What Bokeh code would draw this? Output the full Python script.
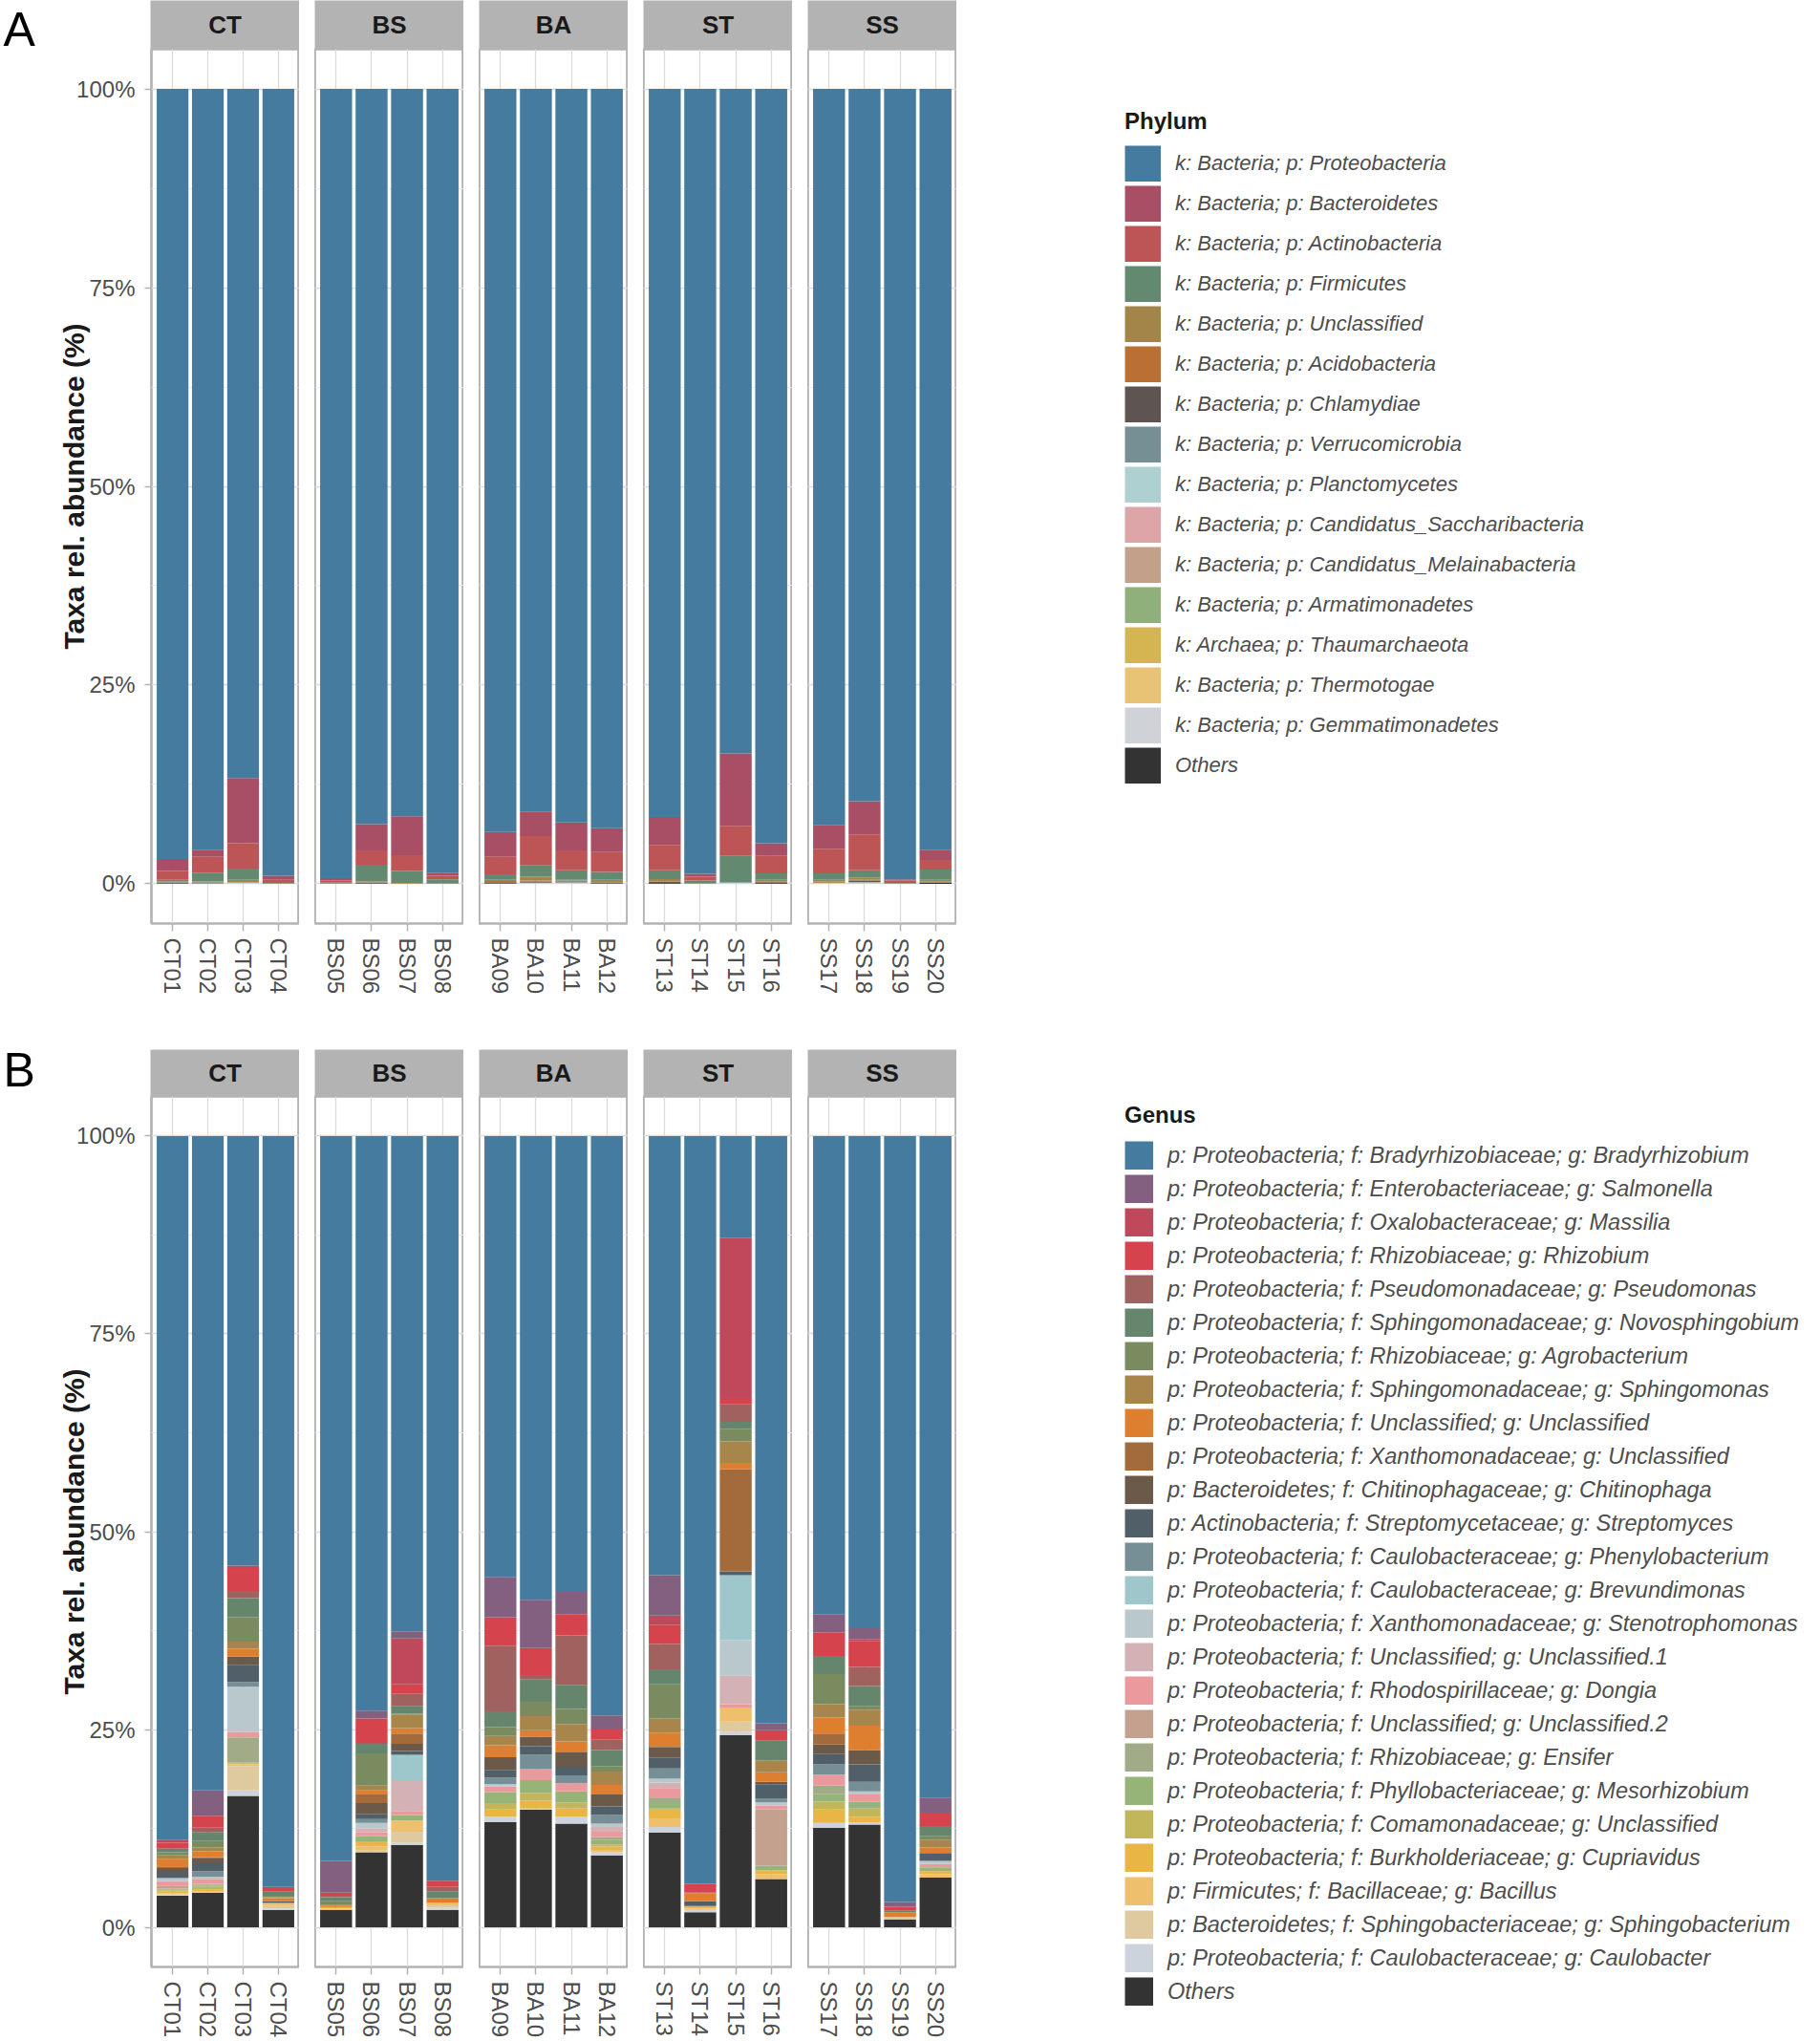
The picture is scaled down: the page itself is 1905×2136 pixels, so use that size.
from bokeh.plotting import figure
from bokeh.models import (ColumnDataSource, FactorRange, Range1d, FixedTicker,
                          PrintfTickFormatter, Legend, LegendItem, Label, Spacer)
from bokeh.layouts import row, column
from bokeh.embed import file_html
from bokeh.resources import INLINE

FONT = "Liberation Sans"

groups = ["CT", "BS", "BA", "ST", "SS"]
samples = ["CT01", "CT02", "CT03", "CT04", "BS05", "BS06", "BS07", "BS08",
           "BA09", "BA10", "BA11", "BA12", "ST13", "ST14", "ST15", "ST16",
           "SS17", "SS18", "SS19", "SS20"]
panel_letters = ["A", "B"]

# ---------------- Panel A : phylum ----------------
phylum_names = [
    "k: Bacteria; p: Proteobacteria", "k: Bacteria; p: Bacteroidetes",
    "k: Bacteria; p: Actinobacteria", "k: Bacteria; p: Firmicutes",
    "k: Bacteria; p: Unclassified", "k: Bacteria; p: Acidobacteria",
    "k: Bacteria; p: Chlamydiae", "k: Bacteria; p: Verrucomicrobia",
    "k: Bacteria; p: Planctomycetes", "k: Bacteria; p: Candidatus_Saccharibacteria",
    "k: Bacteria; p: Candidatus_Melainabacteria", "k: Bacteria; p: Armatimonadetes",
    "k: Archaea; p: Thaumarchaeota", "k: Bacteria; p: Thermotogae",
    "k: Bacteria; p: Gemmatimonadetes", "Others"]
phylum_colors = ["#447B9E", "#A84F66", "#BD5556", "#638A70", "#A38449", "#BA7034",
                 "#5E5553", "#758F94", "#AFD0D1", "#DDA5A8", "#C2A08A", "#8FB07B",
                 "#D5B552", "#E8C275", "#CFD3D8", "#333333"]

p_proteobacteria = [96.9, 95.7, 86.7, 99.0, 99.3, 92.5, 91.5, 98.6, 93.5, 90.9,
                    92.3, 93.0, 91.6, 98.75, 83.6, 94.9, 92.6, 89.6, 99.45, 95.7]
p_bacteroidetes = [1.5, 0.9, 8.2, 0.5, 0.25, 3.3, 4.9, 0.4, 3.1, 3.1,
                   3.5, 3.0, 3.5, 0.35, 9.1, 1.6, 3.0, 4.2, 0.15, 1.3]
p_actinobacteria = [1.1, 2.0, 3.2, 0.4, 0.3, 1.8, 2.0, 0.45, 2.2, 3.7,
                    2.5, 2.5, 3.2, 0.5, 3.8, 2.2, 3.1, 4.5, 0.3, 1.2]
p_firmicutes = [0.2, 1.1, 1.4, 0.05, 0.1, 2.1, 1.5, 0.5, 0.7, 1.4,
                1.2, 1.0, 1.1, 0.35, 3.3, 0.8, 0.8, 0.9, 0.05, 1.3]
p_unclassified = [0.15, 0.15, 0.3, 0.03, 0.03, 0.15, 0.05, 0.03, 0.15, 0.5,
                  0.1, 0.3, 0.3, 0.03, 0.05, 0.25, 0.25, 0.3, 0.03, 0.25]
p_acidobacteria = [0.05, 0.05, 0.05, 0.02, 0.02, 0.05, 0.05, 0, 0.15, 0.1,
                   0.05, 0.1, 0.05, 0.02, 0.05, 0.05, 0.1, 0.1, 0.02, 0.1]
p_chlamydiae = [0.05, 0.05, 0, 0, 0, 0.05, 0, 0.02, 0.15, 0.15,
                0.05, 0.05, 0.25, 0, 0, 0.2, 0.05, 0.2, 0, 0.05]
p_verrucomicrobia = [0, 0, 0, 0, 0, 0, 0, 0, 0, 0, 0.15, 0, 0, 0, 0, 0, 0, 0, 0, 0]
p_planctomycetes = [0] * 20
p_saccharibacteria = [0] * 20
p_melainabacteria = [0] * 20
p_armatimonadetes = [0] * 20
p_thaumarchaeota = [0, 0, 0, 0, 0, 0, 0, 0, 0, 0.05, 0, 0, 0, 0, 0, 0, 0, 0, 0, 0]
p_thermotogae = [0, 0, 0.05, 0, 0, 0, 0, 0, 0, 0, 0, 0, 0, 0, 0, 0, 0.05, 0.1, 0, 0]
p_gemmatimonadetes = [0, 0.05, 0.1, 0, 0, 0, 0, 0, 0, 0.1, 0.15, 0, 0, 0, 0.1, 0, 0.05, 0.1, 0, 0]
p_others = [0.05, 0, 0, 0, 0, 0.05, 0, 0, 0.05, 0, 0, 0.05, 0, 0, 0, 0, 0, 0, 0, 0.1]

phylum_values = [p_proteobacteria, p_bacteroidetes, p_actinobacteria, p_firmicutes,
                 p_unclassified, p_acidobacteria, p_chlamydiae, p_verrucomicrobia,
                 p_planctomycetes, p_saccharibacteria, p_melainabacteria,
                 p_armatimonadetes, p_thaumarchaeota, p_thermotogae,
                 p_gemmatimonadetes, p_others]

# ---------------- Panel B : genus ----------------
genus_names = [
    "p: Proteobacteria; f: Bradyrhizobiaceae; g: Bradyrhizobium",
    "p: Proteobacteria; f: Enterobacteriaceae; g: Salmonella",
    "p: Proteobacteria; f: Oxalobacteraceae; g: Massilia",
    "p: Proteobacteria; f: Rhizobiaceae; g: Rhizobium",
    "p: Proteobacteria; f: Pseudomonadaceae; g: Pseudomonas",
    "p: Proteobacteria; f: Sphingomonadaceae; g: Novosphingobium",
    "p: Proteobacteria; f: Rhizobiaceae; g: Agrobacterium",
    "p: Proteobacteria; f: Sphingomonadaceae; g: Sphingomonas",
    "p: Proteobacteria; f: Unclassified; g: Unclassified",
    "p: Proteobacteria; f: Xanthomonadaceae; g: Unclassified",
    "p: Bacteroidetes; f: Chitinophagaceae; g: Chitinophaga",
    "p: Actinobacteria; f: Streptomycetaceae; g: Streptomyces",
    "p: Proteobacteria; f: Caulobacteraceae; g: Phenylobacterium",
    "p: Proteobacteria; f: Caulobacteraceae; g: Brevundimonas",
    "p: Proteobacteria; f: Xanthomonadaceae; g: Stenotrophomonas",
    "p: Proteobacteria; f: Unclassified; g: Unclassified.1",
    "p: Proteobacteria; f: Rhodospirillaceae; g: Dongia",
    "p: Proteobacteria; f: Unclassified; g: Unclassified.2",
    "p: Proteobacteria; f: Rhizobiaceae; g: Ensifer",
    "p: Proteobacteria; f: Phyllobacteriaceae; g: Mesorhizobium",
    "p: Proteobacteria; f: Comamonadaceae; g: Unclassified",
    "p: Proteobacteria; f: Burkholderiaceae; g: Cupriavidus",
    "p: Firmicutes; f: Bacillaceae; g: Bacillus",
    "p: Bacteroidetes; f: Sphingobacteriaceae; g: Sphingobacterium",
    "p: Proteobacteria; f: Caulobacteraceae; g: Caulobacter",
    "Others"]
genus_colors = ["#447B9E", "#835F80", "#C0485B", "#D5434C", "#A0625E", "#65866C",
                "#798B5F", "#A8854A", "#DD7F2E", "#A36A3B", "#6B5A4A", "#505F68",
                "#768F96", "#9DC7CB", "#B8C8CC", "#D3B1B4", "#EA9A9C", "#C4A08E",
                "#A1AB87", "#96B478", "#C2B65B", "#E9B544", "#EEBF6C", "#DFC99E",
                "#CCD3DC", "#333333"]

g_bradyrhizobium = [88.9, 82.7, 54.3, 94.9, 91.6, 72.6, 62.6, 94.1, 55.7, 58.6,
                    57.6, 73.2, 55.5, 94.5, 12.9, 74.2, 60.4, 62.2, 96.8, 83.6]
g_salmonella = [0.1, 3.2, 0, 0, 4.0, 1.0, 0.9, 0, 5.1, 6.1,
                2.8, 1.8, 5.1, 0, 0, 0.9, 2.3, 1.4, 0.6, 1.9]
g_massilia = [0.3, 0, 0.3, 0, 0, 0, 5.8, 0, 0.2, 0,
              0, 0, 1.2, 0, 20.2, 0, 0, 0.2, 0, 0]
g_rhizobium = [0.7, 1.5, 2.9, 0.6, 0.4, 3.1, 1.2, 0.8, 3.4, 3.4,
               2.7, 1.3, 2.4, 1.1, 0.8, 1.3, 3.0, 3.3, 0.5, 1.7]
g_pseudomonas = [0.1, 0.6, 0.9, 0, 0.2, 0.1, 1.5, 0.6, 8.3, 0.6,
                 6.3, 1.3, 3.2, 0, 2.2, 0, 0, 2.4, 0, 0]
g_novosphingobium = [0.4, 1.1, 2.4, 0.5, 0.5, 1.2, 1.0, 0.8, 2.0, 2.8,
                     3.0, 2.0, 1.9, 0.1, 0.9, 2.5, 2.3, 2.5, 0.2, 1.3]
g_agrobacterium = [0.4, 0.8, 3.1, 0.2, 0.4, 4.1, 0.1, 0, 1.1, 1.8,
                   1.9, 0.7, 4.3, 0, 1.6, 0, 3.8, 0.5, 0, 0.4]
g_sphingomonas = [0.5, 0.5, 0.9, 0.1, 0, 0.6, 1.7, 0, 1.2, 1.8,
                  2.2, 1.7, 1.8, 0, 2.7, 1.5, 1.7, 2.0, 0, 1.0]
g_unclassified = [0.9, 0.7, 1.0, 0.4, 0.2, 0.4, 0.7, 0.6, 1.5, 0.8,
                  1.4, 1.2, 1.8, 1.0, 0.8, 1.2, 2.0, 3.1, 0.6, 0.7]
g_xanthomonadaceae = [0.2, 0.1, 0, 0, 0, 1.2, 1.3, 0, 0, 0,
                      0, 0, 0, 0, 12.9, 0, 1.4, 0, 0, 0]
g_chitinophaga = [0.6, 0.7, 1.0, 0, 0, 1.4, 0.9, 0, 1.6, 1.2,
                  1.8, 1.5, 1.4, 0, 0, 0.3, 1.2, 1.8, 0, 0]
g_streptomyces = [0.6, 1.0, 2.2, 0.2, 0.1, 0.6, 0.5, 0, 1.0, 1.1,
                  1.1, 1.1, 1.3, 0.6, 0.5, 1.8, 1.3, 2.2, 0, 1.0]
g_phenylobacterium = [0.1, 0.7, 0.6, 0, 0, 0.5, 0, 0, 0.8, 1.8,
                      1.0, 1.1, 1.3, 0, 0, 0.5, 1.3, 1.2, 0, 0]
g_brevundimonas = [0, 0, 0, 0, 0, 0, 3.2, 0, 0, 0,
                   0, 0, 0, 0, 8.2, 0, 0, 0, 0, 0]
g_stenotrophomonas = [0.3, 0.1, 5.7, 0, 0, 0.7, 0, 0, 0.3, 0,
                      0, 0.4, 0.5, 0, 4.5, 0.4, 0, 0.4, 0, 0.4]
g_unclassified1 = [0.2, 0.2, 0, 0, 0, 0.5, 3.9, 0, 0, 0,
                   0, 0.6, 0.7, 0, 3.6, 0, 0, 0, 0, 0]
g_dongia = [0.4, 0.6, 0.7, 0, 0, 0.5, 0.5, 0, 0.7, 1.4,
            1.0, 0.7, 1.3, 0, 0.5, 0.5, 1.4, 0.9, 0, 0.4]
g_unclassified2 = [0.4, 0.1, 0, 0, 0, 0, 0, 0, 0, 0,
                   0, 0, 0, 0, 0, 7.1, 0, 0, 0, 0]
g_ensifer = [0.1, 0.1, 3.2, 0, 0, 0, 0, 0, 0, 0,
             0, 0.3, 0.6, 0, 0, 0, 1.0, 0, 0, 0]
g_mesorhizobium = [0.1, 0.2, 0, 0, 0, 0.7, 0.7, 0, 1.4, 1.6,
                   1.4, 0.6, 0.7, 0, 0, 0.6, 1.0, 0.9, 0, 0.5]
g_comamonadaceae = [0.2, 0.35, 0, 0, 0, 0, 0, 0, 0.8, 1.0,
                    0.8, 0.3, 0, 0, 0, 0, 1.0, 1.0, 0, 0]
g_cupriavidus = [0.2, 0.2, 0.2, 0.1, 0.2, 0.6, 0, 0, 0.9, 1.0,
                 1.0, 0.4, 1.3, 0.3, 0, 0.5, 1.7, 0.7, 0, 0.4]
g_bacillus = [0.1, 0.1, 0.2, 0.3, 0.2, 0.5, 1.4, 0.3, 0, 0,
              0, 0.3, 1.0, 0, 1.7, 0.6, 0, 0, 0, 0.4]
g_sphingobacterium = [0.1, 0.05, 3.1, 0.3, 0, 0.2, 1.4, 0.3, 0, 0,
                      0, 0, 0, 0.3, 1.3, 0, 0, 0, 0.3, 0]
g_caulobacter = [0.1, 0, 0.7, 0.2, 0, 0, 0.3, 0.3, 0.7, 0.1,
                 0.9, 0.4, 0.7, 0.2, 0.4, 0, 0.6, 0.3, 0, 0]
g_others = [4.0, 4.4, 16.6, 2.2, 2.2, 9.5, 10.4, 2.2, 13.3, 14.9,
            13.1, 9.1, 12.0, 1.9, 24.3, 6.1, 12.6, 13.0, 1.0, 6.3]

genus_values = [g_bradyrhizobium, g_salmonella, g_massilia, g_rhizobium, g_pseudomonas,
                g_novosphingobium, g_agrobacterium, g_sphingomonas, g_unclassified,
                g_xanthomonadaceae, g_chitinophaga, g_streptomyces, g_phenylobacterium,
                g_brevundimonas, g_stenotrophomonas, g_unclassified1, g_dongia,
                g_unclassified2, g_ensifer, g_mesorhizobium, g_comamonadaceae,
                g_cupriavidus, g_bacillus, g_sphingobacterium, g_caulobacter, g_others]

y_ticks = [0, 25, 50, 75, 100]
y_minor = [12.5, 37.5, 62.5, 87.5]

# ---------------- layout constants ----------------
LETTER_W = 58
FACET_W = 156
GAP = 16
LEFT = 157 - LETTER_W          # y-axis area of the first facet
FRAME_H = 915
TOTAL_W = 1889
PANELS_W = 157 + 5 * FACET_W + 4 * GAP
STRIP_A, BOTTOM_A = 51, 132
STRIP_B, BOTTOM_B = 49, 73
TOTAL_H = STRIP_A + FRAME_H + BOTTOM_A + STRIP_B + FRAME_H + BOTTOM_B


def blank_fig(w, h, xr=(0, 1), yr=(0, 1), **kw):
    p = figure(width=w, height=h, x_range=Range1d(*xr), y_range=Range1d(*yr),
               x_axis_location=None, y_axis_location=None, toolbar_location=None,
               output_backend="svg", min_border=0, **kw)
    p.grid.visible = False
    p.outline_line_color = None
    return p


def strip_fig(text, h):
    p = blank_fig(FACET_W, h, background_fill_color="#B3B3B3",
                  border_fill_color="#B3B3B3")
    p.add_layout(Label(x=0.5, y=0.5, text=text, text_align="center",
                       text_baseline="middle", text_font=FONT, text_font_size="26px",
                       text_font_style="bold", text_color="#1A1A1A"))
    return p


def letters_fig():
    # one tall column holding the panel letters (y measured from the top)
    p = blank_fig(LETTER_W, TOTAL_H, xr=(0, LETTER_W), yr=(TOTAL_H, 0))
    for txt, yc in zip(panel_letters, [30, 1119]):
        p.add_layout(Label(x=3, y=yc, text=txt, text_align="left",
                           text_baseline="middle", text_font=FONT,
                           text_font_size="50px", text_color="#000000"))
    return p


def facet_fig(gi, values, colors, bottom):
    first = gi == 0
    s = samples[4 * gi:4 * gi + 4]
    data = {"sample": s}
    keys = []
    for k, v in enumerate(values):
        data["s%d" % k] = v[4 * gi:4 * gi + 4]
        keys.append("s%d" % k)
    src = ColumnDataSource(data)
    left = LEFT if first else 0
    p = figure(width=left + FACET_W, height=FRAME_H + bottom,
               x_range=FactorRange(factors=s, range_padding=0.1,
                                   range_padding_units="absolute"),
               y_range=Range1d(-5, 105), toolbar_location=None, output_backend="svg",
               min_border_left=left, min_border_right=0, min_border_top=0,
               min_border_bottom=bottom,
               y_axis_location="left" if first else None)
    order = list(range(len(values)))[::-1]
    p.vbar_stack([keys[k] for k in order], x="sample", width=0.9, source=src,
                 fill_color=[colors[k] for k in order], line_color=None)
    tick = FixedTicker(ticks=y_ticks, minor_ticks=y_minor)
    p.ygrid.ticker = tick
    p.ygrid.grid_line_color = "#DCDCDC"
    p.ygrid.grid_line_width = 1.3
    p.ygrid.minor_grid_line_color = "#E8E8E8"
    p.ygrid.minor_grid_line_width = 0.8
    p.xgrid.grid_line_color = "#DCDCDC"
    p.xgrid.grid_line_width = 1.3
    p.outline_line_color = "#B3B3B3"
    p.outline_line_width = 2.7
    p.background_fill_color = "white"
    ax = p.xaxis[0]
    ax.major_label_orientation = "vertical"
    ax.major_label_text_font = FONT
    ax.major_label_text_font_size = "24px"
    ax.major_label_text_color = "#4D4D4D"
    ax.major_tick_line_color = "#B3B3B3"
    ax.major_tick_line_width = 1.5
    ax.major_tick_out = 8
    ax.major_tick_in = 0
    ax.axis_line_color = None
    ax.major_label_standoff = 7
    if first:
        ya = p.yaxis[0]
        ya.ticker = tick
        ya.formatter = PrintfTickFormatter(format="%d%%")
        ya.major_label_text_font = FONT
        ya.major_label_text_font_size = "24px"
        ya.major_label_text_color = "#4D4D4D"
        ya.major_tick_line_color = "#B3B3B3"
        ya.major_tick_line_width = 1.5
        ya.major_tick_out = 7
        ya.major_tick_in = 0
        ya.minor_tick_line_color = None
        ya.axis_line_color = None
        ya.major_label_standoff = 10
        ya.axis_label = "Taxa rel. abundance (%)"
        ya.axis_label_text_font = FONT
        ya.axis_label_text_font_size = "30px"
        ya.axis_label_text_font_style = "bold"
        ya.axis_label_text_color = "#1A1A1A"
        ya.axis_label_standoff = -17
    return p


def legend_fig(names, colors, title, h, top, glyph, spacing, tstand, lstand, fsize):
    p = figure(width=TOTAL_W - PANELS_W, height=h, x_range=Range1d(0, 1),
               y_range=Range1d(0, 1), x_axis_location=None, y_axis_location=None,
               toolbar_location=None, output_backend="svg", min_border_left=176,
               min_border_top=top, min_border_right=0, min_border_bottom=0)
    p.grid.visible = False
    p.outline_line_color = None
    items = []
    for n, c in zip(names, colors):
        # zero-length key carrier: draws nothing in the frame, only the legend key
        r = p.line(x=[0.5, 0.5], y=[0.5, 0.5], line_width=glyph, line_color=c,
                   line_cap="butt")
        items.append(LegendItem(label=n, renderers=[r]))
    leg = Legend(items=items, location="top_left", title=title, padding=0, margin=0,
                 spacing=spacing, glyph_width=glyph, glyph_height=glyph,
                 label_height=glyph, label_standoff=lstand, title_standoff=tstand,
                 border_line_color=None, background_fill_alpha=0,
                 label_text_font=FONT, label_text_font_size=fsize,
                 label_text_font_style="italic", label_text_color="#4D4D4D",
                 title_text_font=FONT, title_text_font_size="24px",
                 title_text_font_style="bold", title_text_color="#1A1A1A")
    p.add_layout(leg)
    return p


def panel(values, colors, names, title, strip_h, bottom, ltop,
          glyph, spacing, tstand, lstand, fsize):
    strips = [Spacer(width=LEFT - GAP, height=strip_h)] + \
             [strip_fig(g, strip_h) for g in groups]
    facets = [facet_fig(i, values, colors, bottom) for i in range(5)]
    left = column(row(*strips, spacing=GAP), row(*facets, spacing=GAP))
    leg = legend_fig(names, colors, title, strip_h + FRAME_H + bottom, ltop, glyph,
                     spacing, tstand, lstand, fsize)
    return row(left, leg)


panelA = panel(phylum_values, phylum_colors, phylum_names, "Phylum",
               STRIP_A, BOTTOM_A, 113, 38, 4, 11, 15, "22px")
panelB = panel(genus_values, genus_colors, genus_names, "Genus",
               STRIP_B, BOTTOM_B, 55, 30, 5, 13, 15, "23.5px")

layout = row(letters_fig(), column(panelA, panelB))

open("out.html", "w").write(file_html(layout, INLINE))
